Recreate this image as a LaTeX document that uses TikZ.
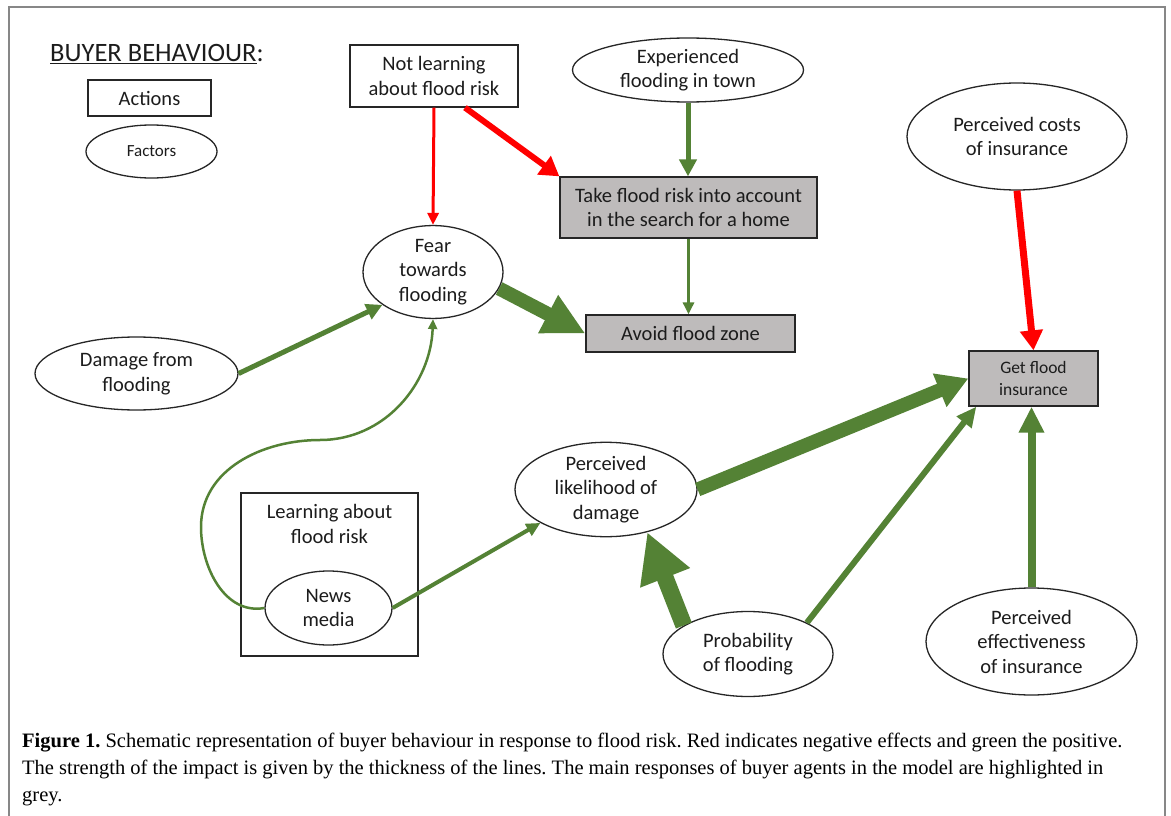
\documentclass[tikz,border=0pt]{standalone}
\usepackage{fontspec}
\setmainfont{Carlito}
\newfontfamily\capfont{Liberation Serif}
\usetikzlibrary{arrows.meta,shapes.geometric}
\definecolor{fgreen}{RGB}{84,130,53}
\definecolor{fred}{RGB}{255,0,0}
\definecolor{boxgrey}{RGB}{190,187,187}
\definecolor{txt}{RGB}{28,28,28}
\definecolor{framec}{RGB}{135,135,135}
\frenchspacing
\begin{document}
\begin{tikzpicture}[x=1pt,y=-1pt,
  base/.style={text=txt, align=center, font=\fontsize{20.5}{24.5}\selectfont, inner sep=0pt, line width=1.3pt, draw=black!85},
  factor/.style={base, ellipse},
  action/.style={base, rectangle},
  hl/.style={action, fill=boxgrey},
  garr/.style={draw=fgreen, line width=#1},
  rarr/.style={draw=fred, line width=#1},
  tip/.style 2 args={-{Triangle[width=#1pt,length=#2pt]}}
]
\useasboundingbox (0,0) rectangle (1171,816);
\fill[white] (0,0) rectangle (1171,816);
\draw[framec, line width=2pt] (9,816) -- (9,7) -- (1165,7) -- (1165,816);

% legend
\node[anchor=base west, text=txt, inner sep=0pt, font=\fontsize{26.5}{30}\selectfont] (title) at (50,62) {\underline{BUYER BEHAVIOUR}:};
\node[action, minimum width=123pt, minimum height=36pt] (actions) at (149.5,98) {Actions};
\node[factor, minimum width=131pt, minimum height=53pt, font=\fontsize{17}{20}\selectfont] (factors) at (151.5,151.5) {Factors};

% nodes
\node[action, minimum width=168pt, minimum height=62pt] (nl) at (434,76) {Not learning\\about flood risk};
\node[factor, minimum width=231pt, minimum height=64pt] (exp) at (688,70) {Experienced\\flooding in town};
\node[hl, minimum width=257pt, minimum height=61pt] (take) at (688.5,207.5) {Take flood risk into account\\in the search for a home};
\node[hl, minimum width=209pt, minimum height=37pt] (avoid) at (690.5,333.5) {Avoid flood zone};
\node[factor, minimum width=140pt, minimum height=88pt] (fear) at (433,272) {Fear\\towards\\flooding};
\node[factor, minimum width=203pt, minimum height=73pt] (dam) at (136.5,373.5) {Damage from\\flooding};
\node[factor, minimum width=220pt, minimum height=107pt] (cost) at (1017,136.5) {Perceived costs\\of insurance};
\node[hl, minimum width=129pt, minimum height=55pt, font=\fontsize{17.5}{21.5}\selectfont] (get) at (1033.5,378.5) {Get flood\\insurance};
\node[action, minimum width=177pt, minimum height=163pt] (learn) at (329.5,574.5) {};
\node[text=txt, align=center, inner sep=0pt, font=\fontsize{20.5}{24.5}\selectfont, anchor=base] (learntxt) at (329.5,543) {Learning about\\flood risk};
\node[factor, minimum width=127pt, minimum height=74pt] (news) at (328.5,608) {News\\media};
\node[factor, minimum width=182pt, minimum height=93pt] (like) at (606,489.5) {Perceived\\likelihood of\\damage};
\node[factor, minimum width=170pt, minimum height=85pt] (prob) at (748,654) {Probability\\of flooding};
\node[factor, minimum width=211pt, minimum height=107pt] (eff) at (1031.5,641.5) {Perceived\\effectiveness\\of insurance};

% connectors
\draw[rarr=3pt, tip={11}{12}] (nl.south) -- (fear.north);
\draw[rarr=6pt, tip={22}{19}] ([xshift=31pt]nl.south) -- (take.north west);
\draw[garr=5pt, tip={17}{17}] (exp.south) -- (exp.south |- take.north);
\draw[garr=3pt, tip={11}{12}] (take.south) -- (take.south |- avoid.north);
\draw[garr=14pt, tip={40}{42}] (fear.-14) -- (avoid.west);
\draw[garr=5pt, tip={16}{16}] (dam.east) -- (fear.213);
\draw[garr=2.5pt, tip={9}{10}] (news.west) to[out=190,in=270] (201,527) to[out=90,in=180] (320,440) to[out=0,in=268] (fear.south);
\draw[garr=4pt, tip={13}{14}] (news.east) -- (like.207);
\draw[garr=14pt, tip={34}{31}] (like.east) -- (get.west);
\draw[garr=17pt, tip={50}{49}] (prob.156) -- (like.-46);
\draw[garr=6pt, tip={18}{20}] (prob.28) -- ([xshift=8pt]get.south west);
\draw[garr=8pt, tip={24}{26}] (eff.north) -- (eff.north |- get.south);
\draw[rarr=7pt, tip={22}{20}] (cost.south) -- (get.north);

% caption
\node[anchor=base west, align=left, inner sep=0pt, text=black, font=\capfont\fontsize{20.5}{27}\selectfont] (cap) at (22,801) {\textbf{Figure 1.} Schematic representation of buyer behaviour in response to flood risk. Red indicates negative effects and green the positive.\\The strength of the impact is given by the thickness of the lines. The main responses of buyer agents in the model are highlighted in\\grey.};
\end{tikzpicture}
\end{document}
